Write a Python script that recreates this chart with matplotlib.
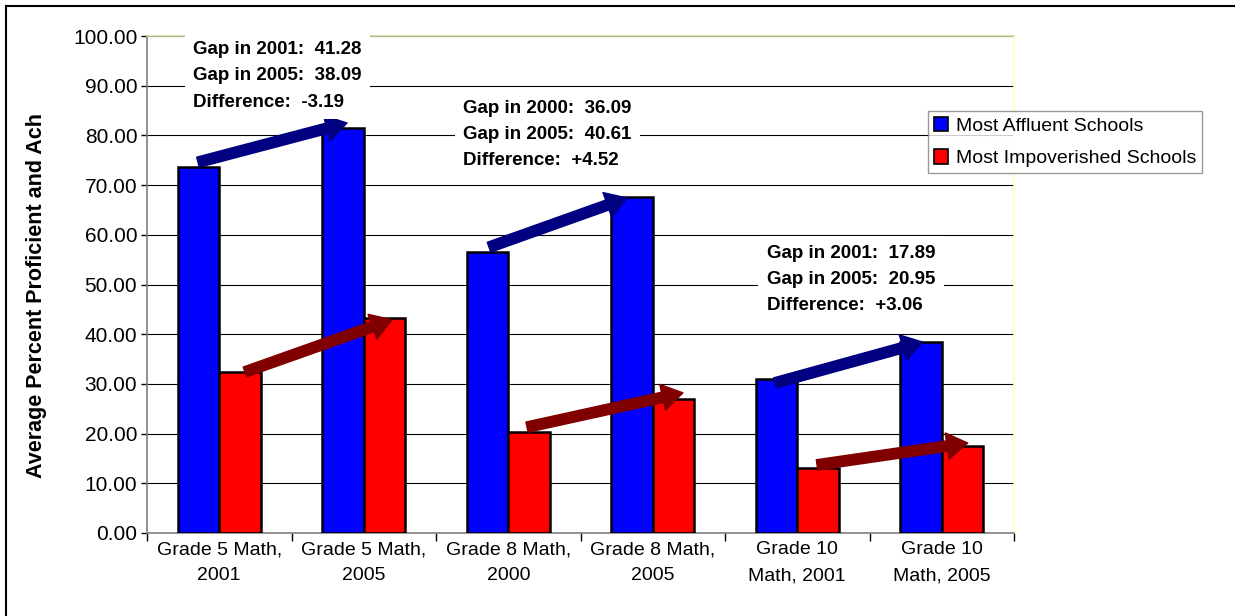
import numpy as np
import matplotlib.pyplot as plt
from matplotlib.patches import FancyArrowPatch, Patch
from matplotlib.lines import Line2D

plt.rcParams['font.family'] = ['Liberation Sans', 'DejaVu Sans']

# Данные
categories = ['Grade 5 Math,\n2001', 'Grade 5 Math,\n2005', 'Grade 8 Math,\n2000',
              'Grade 8 Math,\n2005', 'Grade 10\nMath, 2001', 'Grade 10\nMath, 2005']
affluent = [73.60, 81.40, 56.50, 67.60, 31.00, 38.50]
impoverished = [32.32, 43.31, 20.41, 26.99, 13.11, 17.55]
series_names = ['Most Affluent Schools', 'Most Impoverished Schools']

gap_notes = [
    'Gap in 2001:  41.28\nGap in 2005:  38.09\nDifference:  -3.19',
    'Gap in 2000:  36.09\nGap in 2005:  40.61\nDifference:  +4.52',
    'Gap in 2001:  17.89\nGap in 2005:  20.95\nDifference:  +3.06',
]

fig = plt.figure(figsize=(12.35, 6.16), dpi=100)
ax = fig.add_axes([147 / 1235, 1 - 533 / 616, (1014 - 147) / 1235, (533 - 36) / 616])

x = np.arange(len(categories))
w = 0.2875
ax.bar(x - w / 2, affluent, w, color='#0000ff', edgecolor='black', linewidth=1.8, zorder=3)
ax.bar(x + w / 2, impoverished, w, color='#ff0000', edgecolor='black', linewidth=1.8, zorder=3)

ax.set_xlim(-0.5, len(categories) - 0.5)
ax.set_ylim(0, 100)
ax.set_yticks(np.arange(0, 101, 10))
ax.set_yticklabels([f'{v:.2f}' for v in np.arange(0, 101, 10)], fontsize=15)
ax.set_xticks(x)
ax.set_xticklabels(categories, fontsize=14, linespacing=1.7)
ax.set_xticks(np.arange(-0.5, len(categories), 1), minor=True)
ax.tick_params(axis='x', which='major', length=0, pad=6)
ax.tick_params(axis='x', which='minor', length=6, color='black', width=1)
ax.tick_params(axis='y', length=4, color='black', width=1, pad=3)

ax.grid(axis='y', color='black', linewidth=0.8, zorder=1)
ax.spines['left'].set_color('#808070')
ax.spines['bottom'].set_color('#808080')
ax.spines['top'].set_color('#dcdca0')
ax.spines['right'].set_color('#ffffc0')
for s in ax.spines.values():
    s.set_linewidth(1.2)

# Стрелки между годами
arrows = [
    ((-0.147, 74.6), (0.884, 82.5), '#000080'),
    ((0.178, 32.4), (1.196, 42.9), '#800000'),
    ((1.867, 57.5), (2.822, 67.4), '#000080'),
    ((2.130, 21.3), (3.209, 28.2), '#800000'),
    ((3.846, 30.2), (4.870, 38.4), '#000080'),
    ((4.137, 13.7), (5.180, 18.1), '#800000'),
]
for start, end, col in arrows:
    arr = FancyArrowPatch(start, end, arrowstyle='simple,head_length=1.5,head_width=1.9,tail_width=0.75',
                          mutation_scale=10, color=col, zorder=4, clip_on=False, shrinkA=0, shrinkB=0)
    ax.add_patch(arr)

# Подписи с разницей
note_pos = [(-0.182, 99.0), (1.687, 87.2), (3.79, 58.0)]
for (tx, ty), txt in zip(note_pos, gap_notes):
    ax.text(tx, ty, txt, fontsize=13.5, fontweight='bold', va='top', ha='left', linespacing=1.72,
            zorder=5, bbox=dict(boxstyle='square,pad=0.45', fc='white', ec='none'))

# Легенда
handles = [Patch(facecolor='#0000ff', edgecolor='black', linewidth=1.2),
           Patch(facecolor='#ff0000', edgecolor='black', linewidth=1.2)]
leg = fig.legend(handles, series_names, loc='upper left', bbox_to_anchor=(928 / 1235, 1 - 111 / 616),
                 fontsize=14, frameon=True, fancybox=False, handlelength=0.75, handleheight=0.75,
                 handletextpad=0.4, borderpad=0.3, labelspacing=0.75, borderaxespad=0)
leg.get_frame().set_edgecolor('#808080')
leg.get_frame().set_linewidth(1)

fig.text(37 / 1235, 1 - 478 / 616, 'Average Percent Proficient and Ach', rotation=90,
         fontsize=15.5, fontweight='bold', ha='center', va='bottom')

# Рамка сверху и слева
fig.add_artist(Line2D([6 / 1235, 1], [1 - 6 / 616, 1 - 6 / 616], color='black', lw=1.5))
fig.add_artist(Line2D([6 / 1235, 6 / 1235], [0, 1 - 6 / 616], color='black', lw=1.5))

plt.savefig('out.png', dpi=100)
